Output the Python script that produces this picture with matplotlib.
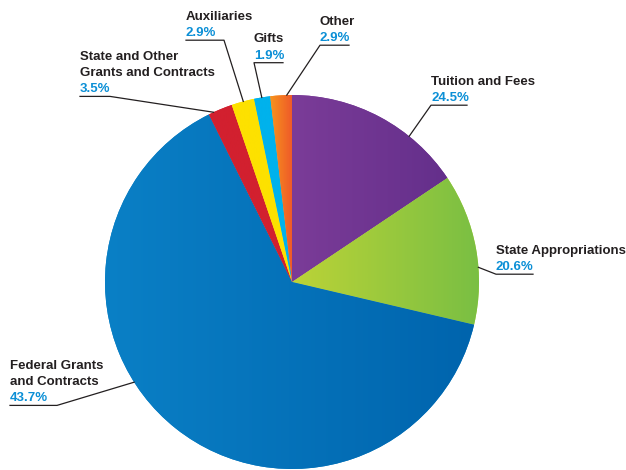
"""Revenue sources pie chart."""
import numpy as np
import matplotlib
matplotlib.use("Agg")
import matplotlib.pyplot as plt
from matplotlib.colors import LinearSegmentedColormap
from matplotlib.lines import Line2D

## DATA
## ====
names = ["Tuition and Fees", "State Appropriations", "Federal Grants\nand Contracts",
         "State and Other\nGrants and Contracts", "Auxiliaries", "Gifts", "Other"]
pct_labels = ["24.5%", "20.6%", "43.7%", "3.5%", "2.9%", "1.9%", "2.9%"]
# slice sizes as drawn in the picture (degrees of arc)
slice_sizes = [56.2, 47.0, 230.4, 7.6, 7.1, 5.0, 6.7]

## STYLE
## =====
W, H = 626, 470
CX, CY, R = 292, 282, 187          # pie centre / radius in pixels
grad_colors = [("#7b3c98", "#642f8b"), ("#bcd337", "#79bf43"), ("#0a80c6", "#0064ad"),
               ("#d2202f", "#d2202f"), ("#fde100", "#fde100"), ("#00b2ec", "#00b2ec"),
               ("#f7941d", "#ef5a29")]
# label left x, first-line baseline y (pixels), leader edge angle (deg)
label_pos = [(431, 85), (496, 254), (10, 369), (80, 60), (186, 20), (254, 42.5), (320, 25)]
underline_w = [36, 37, 47, 30, 38, 29, 29]
leader_from_right = [False, False, True, True, True, False, False]
edge_angle = [51.2, 4.5, 212.4, 114.8, 105.1, 99.3, 91.6]
LINE_H = 16.2
FS = 9.5

plt.rcParams['font.family'] = ['Liberation Sans', 'DejaVu Sans']

fig = plt.figure(figsize=(W / 100, H / 100), dpi=100)
ax = fig.add_axes([(CX - R) / W, (H - CY - R) / H, 2 * R / W, 2 * R / H])
wedges, _ = ax.pie(slice_sizes, startangle=90, counterclock=False, radius=1,
                   wedgeprops=dict(linewidth=0))
ax.axis("off")

# horizontal gradient fill in each slice
for w, (c1, c2) in zip(wedges, grad_colors):
    w.set_facecolor(c1)
    xs = w.get_path().vertices[:, 0]
    cmap = LinearSegmentedColormap.from_list("g", [c1, c2])
    im = ax.imshow(np.linspace(0, 1, 256)[None, :], cmap=cmap, aspect="auto",
                   extent=(xs.min(), xs.max(), -1, 1), zorder=2)
    im.set_clip_path(w)
ax.set_xlim(-1, 1)
ax.set_ylim(-1, 1)


def fx(x):
    return x / W


def fy(y):
    return 1 - y / H


for name, pct, (lx, ly), uw, right, ang in zip(names, pct_labels, label_pos, underline_w,
                                               leader_from_right, edge_angle):
    lines = name.split("\n")
    for i, line in enumerate(lines):
        fig.text(fx(lx), fy(ly + i * LINE_H), line, fontsize=FS, fontweight="bold",
                 color="#231f20", va="baseline", ha="left")
    py = ly + len(lines) * LINE_H
    fig.text(fx(lx), fy(py), pct, fontsize=FS, fontweight="bold", color="#0b8fd6",
             va="baseline", ha="left")
    uy = py + 4
    ex = CX + R * np.cos(np.radians(ang))
    ey = CY - R * np.sin(np.radians(ang))
    if right:
        xs_, ys_ = [lx, lx + uw, ex], [uy, uy, ey]
    else:
        xs_, ys_ = [ex, lx, lx + uw], [ey, uy, uy]
    fig.add_artist(Line2D([fx(v) for v in xs_], [fy(v) for v in ys_],
                          color="#231f20", linewidth=0.9))

fig.savefig("out.png", dpi=100)
